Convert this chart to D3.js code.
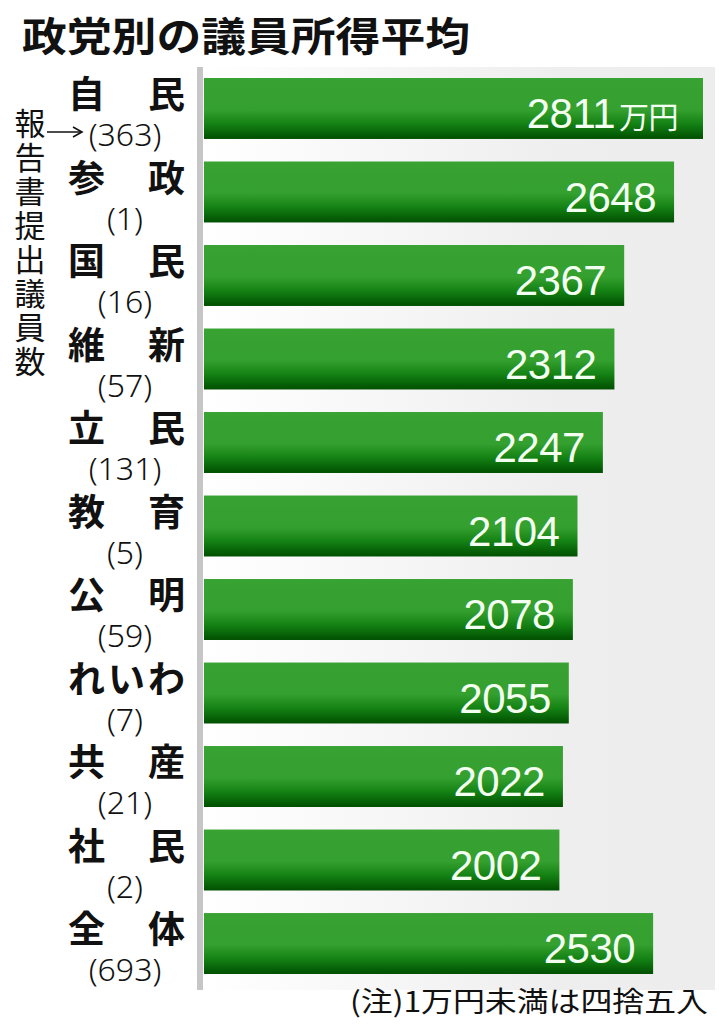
<!DOCTYPE html>
<html>
<head>
<meta charset="utf-8">
<script src="https://cdn.jsdelivr.net/npm/d3@7"></script>
<style>
  body { margin: 0; background: #fff; }
  svg { display: block; }
</style>
</head>
<body>
<div id="chart"></div>
<script>
// data
var parties = ['自民', '参政', '国民', '維新', '立民', '教育', '公明', 'れいわ', '共産', '社民', '全体'];
var members = [363, 1, 16, 57, 131, 5, 59, 7, 21, 2, 693];
var income = [2811, 2648, 2367, 2312, 2247, 2104, 2078, 2055, 2022, 2002, 2530];

var width = 726, height = 1024;

var svg = d3.select('#chart').append('svg')
    .attr('width', width)
    .attr('height', height);

var defs = svg.append('defs');

// bar gradient: flat green on top, darkening toward the bottom
var bg = defs.append('linearGradient')
    .attr('id', 'barGrad')
    .attr('x1', 0).attr('y1', 0).attr('x2', 0).attr('y2', 1);
bg.append('stop').attr('offset', '0%').attr('stop-color', '#38a233');
bg.append('stop').attr('offset', '52%').attr('stop-color', '#34a02f');
bg.append('stop').attr('offset', '75%').attr('stop-color', '#148214');
bg.append('stop').attr('offset', '100%').attr('stop-color', '#004f00');

// panel gradient: white at the axis, light gray on the right
var pg = defs.append('linearGradient')
    .attr('id', 'panelGrad')
    .attr('x1', 0).attr('y1', 0).attr('x2', 1).attr('y2', 0);
pg.append('stop').attr('offset', '0%').attr('stop-color', '#ffffff');
pg.append('stop').attr('offset', '70%').attr('stop-color', '#eeeeee');
pg.append('stop').attr('offset', '100%').attr('stop-color', '#ededed');

var rows = parties.map(function (p, i) {
    return { party: p, n: members[i], value: income[i] };
});

var x = d3.scaleLinear()
    .domain([0, d3.max(income)])
    .range([204, 703]);

var y = d3.scaleBand()
    .domain(parties)
    .range([78, 974])
    .paddingInner(0.27)
    .paddingOuter(0);

// background panel and axis line
svg.append('rect')
    .attr('x', x(0))
    .attr('y', 67)
    .attr('width', 715 - x(0))
    .attr('height', 923)
    .attr('fill', 'url(#panelGrad)');

svg.append('rect')
    .attr('x', x(0) - 7)
    .attr('y', 67)
    .attr('width', 6)
    .attr('height', 923)
    .attr('fill', '#c6c6c6');

// title
svg.append('text')
    .attr('x', 22)
    .attr('y', 51)
    .attr('textLength', 448)
    .attr('lengthAdjust', 'spacingAndGlyphs')
    .style('font-family', '"Noto Sans CJK JP"')
    .style('font-weight', 700)
    .style('font-size', '40px')
    .style('fill', '#111')
    .text('政党別の議員所得平均');

// bars
svg.selectAll('.bar')
    .data(rows)
    .enter()
    .append('rect')
    .attr('class', 'bar')
    .attr('x', x(0))
    .attr('y', d => y(d.party))
    .attr('width', d => x(d.value) - x(0))
    .attr('height', y.bandwidth())
    .attr('fill', 'url(#barGrad)');

// value labels
var vals = svg.selectAll('.val')
    .data(rows)
    .enter()
    .append('text')
    .attr('class', 'val')
    .attr('x', (d, i) => x(d.value) - (i === 0 ? 25 : 18))
    .attr('y', d => y(d.party) + 50)
    .attr('text-anchor', 'end')
    .style('font-family', '"Liberation Sans", Arial, sans-serif')
    .style('font-size', '42px')
    .style('fill', '#f3fff0')
    .style('letter-spacing', '-0.5px');

vals.append('tspan').text(d => d.value);
vals.filter((d, i) => i === 0)
    .append('tspan')
    .attr('dx', 4)
    .style('font-family', '"Noto Sans CJK JP"')
    .style('font-size', '30px')
    .text('万円');

// party name + member count, one two-line label per row
var nameSize = 37, nameWidth = 117;
var labels = svg.selectAll('.label')
    .data(rows)
    .enter()
    .append('text')
    .attr('class', 'label')
    .style('fill', '#111');

labels.append('tspan')
    .attr('x', 68)
    .attr('y', d => y(d.party) + 30)
    .style('font-family', '"Noto Sans CJK JP"')
    .style('font-weight', 700)
    .style('font-size', nameSize + 'px')
    .style('letter-spacing', d => {
        var n = d.party.length;
        return ((nameWidth - n * nameSize) / (n - 1)) + 'px';
    })
    .text(d => d.party);

labels.append('tspan')
    .attr('x', 125)
    .attr('y', d => y(d.party) + 68)
    .attr('text-anchor', 'middle')
    .style('font-family', '"Noto Sans", "Liberation Sans", sans-serif')
    .style('font-weight', 300)
    .style('font-size', '32px')
    .text(d => '(' + d.n + ')');

// vertical note with arrow
svg.append('text')
    .attr('x', 30)
    .attr('y', 108)
    .style('writing-mode', 'vertical-rl')
    .style('font-family', '"Noto Sans CJK JP"')
    .style('font-size', '31px')
    .style('letter-spacing', '3px')
    .style('fill', '#111')
    .text('報告書提出議員数');

svg.append('line')
    .attr('x1', 47).attr('y1', 132)
    .attr('x2', 81).attr('y2', 132)
    .attr('stroke', '#111')
    .attr('stroke-width', 1.6);
svg.append('path')
    .attr('d', 'M73,127 L82,132 L73,137')
    .attr('fill', 'none')
    .attr('stroke', '#111')
    .attr('stroke-width', 1.6);

// footnote
svg.append('text')
    .attr('x', 708)
    .attr('y', 1012)
    .attr('text-anchor', 'end')
    .attr('textLength', 358)
    .attr('lengthAdjust', 'spacingAndGlyphs')
    .style('font-family', '"Noto Sans CJK JP"')
    .style('font-size', '28px')
    .style('fill', '#111')
    .text('(注)1万円未満は四捨五入');
</script>
</body>
</html>
